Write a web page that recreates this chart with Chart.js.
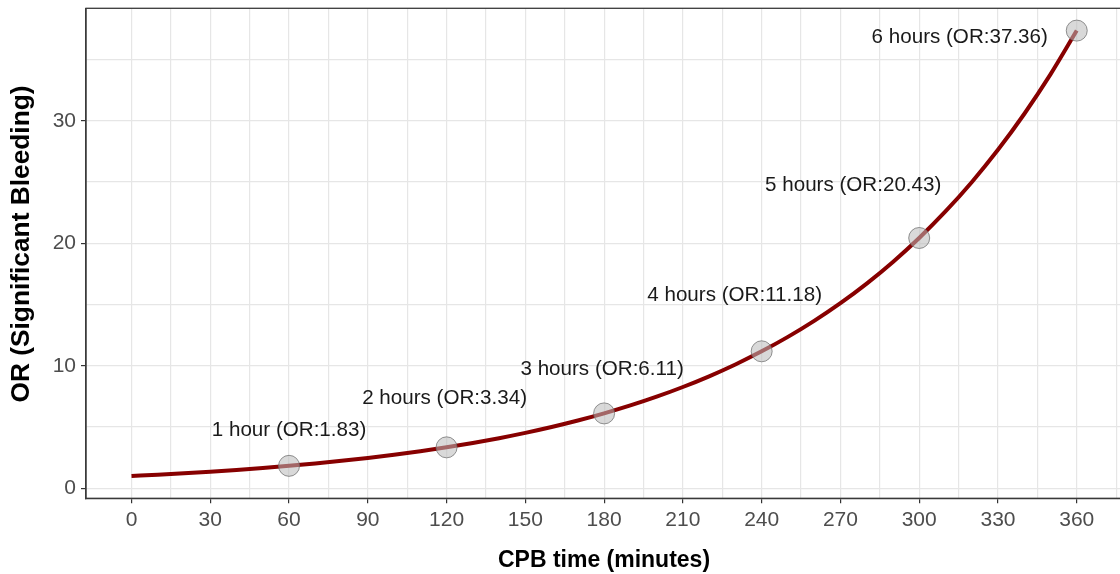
<!DOCTYPE html>
<html>
<head>
<meta charset="utf-8">
<script src="https://cdn.jsdelivr.net/npm/chart.js@4.4.1/dist/chart.umd.min.js"></script>
<style>
  html, body { margin: 0; padding: 0; background: #fff; overflow: hidden; }
  #wrap { width: 1128px; height: 574px; }
</style>
</head>
<body>
<div id="wrap"><canvas id="c" width="1128" height="574"></canvas></div>
<script>
// Fitted odds-ratio curve for significant bleeding vs CPB time
const curveMinutes = [0, 10, 20, 30, 40, 50, 60, 70, 80, 90, 100, 110, 120, 130, 140, 150, 160, 170, 180,
  190, 200, 210, 220, 230, 240, 250, 260, 270, 280, 290, 300, 310, 320, 330, 340, 350, 360];
const curveOR = [1.000, 1.106, 1.223, 1.352, 1.495, 1.653, 1.828, 2.022, 2.236, 2.472, 2.734, 3.023, 3.343,
  3.697, 4.088, 4.520, 4.998, 5.527, 6.112, 6.759, 7.474, 8.265, 9.139, 10.106, 11.176, 12.357, 13.665,
  15.111, 16.710, 18.478, 20.434, 22.595, 24.985, 27.629, 30.552, 33.785, 37.360];

// Marked whole-hour values
const hourMinutes = [60, 120, 180, 240, 300, 360];
const hourOR = [1.83, 3.34, 6.11, 11.18, 20.43, 37.36];
const hourNames = ['1 hour', '2 hours', '3 hours', '4 hours', '5 hours', '6 hours'];

// Axis ticks (major labelled, minor grid only)
const xMajorTicks = [0, 30, 60, 90, 120, 150, 180, 210, 240, 270, 300, 330, 360];
const xMinorTicks = [15, 45, 75, 105, 135, 165, 195, 225, 255, 285, 315, 345, 375];
const yMajorTicks = [0, 10, 20, 30];
const yMinorTicks = [5, 15, 25, 35];

const FONT = "'Liberation Sans', Arial, Helvetica, sans-serif";

// pixel offsets of each annotation's centre from its point
const labelShift = [[0, -36], [-2, -49], [-2, -44], [-27, -56], [-66, -53], [-117, 7]];

// fixed plotting panel (canvas is slightly wider than the page, so the right edge is cut off)
const PANEL = { left: 86, top: 8.3, right: 1124, bottom: 498.3 };

const panelBox = {
  id: 'panelBox',
  afterLayout(chart) {
    const a = PANEL;
    chart.chartArea = { left: a.left, top: a.top, right: a.right, bottom: a.bottom,
      width: a.right - a.left, height: a.bottom - a.top };
    const x = chart.scales.x, y = chart.scales.y;
    x.left = a.left; x.right = a.right; x.width = a.right - a.left;
    x.top = a.bottom; x.bottom = chart.height; x.height = chart.height - a.bottom;
    y.left = 0; y.right = a.left; y.width = a.left;
    y.top = a.top; y.bottom = a.bottom; y.height = a.bottom - a.top;
    x.configure(); y.configure();
  },
  afterDatasetsDraw(chart) {
    const { ctx } = chart;
    const meta = chart.getDatasetMeta(0);
    ctx.save();
    ctx.font = `20.6px ${FONT}`;
    ctx.fillStyle = '#1a1a1a';
    ctx.textAlign = 'center';
    ctx.textBaseline = 'middle';
    meta.data.forEach((pt, i) => {
      const txt = `${hourNames[i]} (OR:${hourOR[i].toFixed(2)})`;
      ctx.fillText(txt, pt.x + labelShift[i][0], pt.y + labelShift[i][1]);
    });
    ctx.restore();
  },
  afterDraw(chart) {
    const { ctx, chartArea: a } = chart;
    ctx.save();
    ctx.strokeStyle = '#3a3a3a';
    ctx.lineWidth = 1.3;
    ctx.strokeRect(a.left, a.top, a.right - a.left, a.bottom - a.top);
    // axis titles
    ctx.fillStyle = '#000';
    ctx.font = `bold 23px ${FONT}`;
    ctx.textAlign = 'center';
    ctx.textBaseline = 'middle';
    ctx.fillText('CPB time (minutes)', 604, 561);
    ctx.translate(22, 244);
    ctx.rotate(-Math.PI / 2);
    ctx.font = `bold 26.3px ${FONT}`;
    ctx.fillText('OR (Significant Bleeding)', 0, 0);
    ctx.restore();
  }
};

const gridColor = '#e6e6e6';

new Chart(document.getElementById('c'), {
  type: 'scatter',
  data: {
    datasets: [
      {
        data: hourMinutes.map((m, i) => ({ x: m, y: hourOR[i] })),
        pointRadius: 10.5,
        pointBackgroundColor: 'rgba(185,185,185,0.55)',
        pointBorderColor: 'rgba(110,110,110,0.75)',
        pointBorderWidth: 1,
        showLine: false
      },
      {
        data: curveMinutes.map((m, i) => ({ x: m, y: curveOR[i] })),
        showLine: true,
        borderColor: '#870000',
        borderWidth: 4,
        pointRadius: 0,
        cubicInterpolationMode: 'monotone',
        fill: false
      }
    ]
  },
  options: {
    responsive: false,
    animation: false,
    events: [],
    layout: { padding: { left: 0, right: 4, top: 8, bottom: 0 } },
    plugins: { legend: { display: false }, tooltip: { enabled: false } },
    scales: {
      x: {
        type: 'linear',
        min: -17.33,
        max: 378.0,
        afterBuildTicks(scale) {
          scale.ticks = xMajorTicks.concat(xMinorTicks).sort((p, q) => p - q).map(v => ({ value: v }));
        },
        afterFit(scale) { scale.height = 76; },
        grid: {
          color: gridColor,
          lineWidth: 1.2,
          tickLength: 5,
          tickColor: ctx => (ctx.tick && xMajorTicks.includes(ctx.tick.value)) ? '#333' : 'rgba(0,0,0,0)',
          tickWidth: 1.2
        },
        border: { display: true, color: '#3a3a3a', width: 1.3 },
        ticks: {
          autoSkip: false,
          maxRotation: 0,
          padding: 4,
          color: '#4d4d4d',
          font: { family: FONT, size: 21 },
          callback: v => xMajorTicks.includes(v) ? String(v) : ''
        }
      },
      y: {
        type: 'linear',
        min: -0.82,
        max: 39.18,
        afterBuildTicks(scale) {
          scale.ticks = yMajorTicks.concat(yMinorTicks).sort((p, q) => p - q).map(v => ({ value: v }));
        },
        afterFit(scale) { scale.width = 86; },
        grid: {
          color: gridColor,
          lineWidth: 1.2,
          tickLength: 5,
          tickColor: ctx => (ctx.tick && yMajorTicks.includes(ctx.tick.value)) ? '#333' : 'rgba(0,0,0,0)',
          tickWidth: 1.2
        },
        border: { display: true, color: '#3a3a3a', width: 1.3 },
        ticks: {
          autoSkip: false,
          padding: 5,
          color: '#4d4d4d',
          font: { family: FONT, size: 21 },
          callback: v => yMajorTicks.includes(v) ? String(v) : ''
        }
      }
    }
  },
  plugins: [panelBox]
});
</script>
</body>
</html>
